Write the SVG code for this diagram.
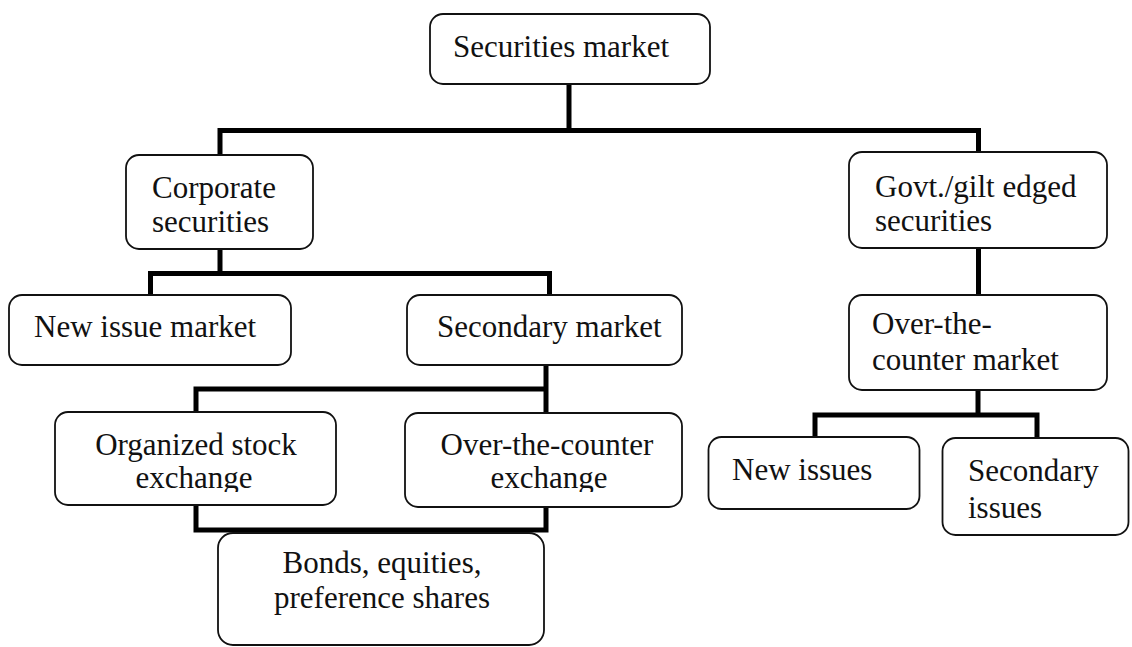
<svg xmlns="http://www.w3.org/2000/svg" width="1132" height="647" viewBox="0 0 1132 647">
<style>
.box{fill:#fff;stroke:#111;stroke-width:1.8}
.t{font-family:"Liberation Serif","Times New Roman",serif;font-size:31px;fill:#111}
.m{text-anchor:middle}
.c{fill:none;stroke:#000;stroke-width:5;stroke-linejoin:miter;stroke-linecap:butt}
</style>
<defs>
<clipPath id="clipOrg"><rect x="55" y="412" width="281" height="80"/></clipPath>
<clipPath id="clipOtcEx"><rect x="405" y="413" width="277" height="79"/></clipPath>
</defs>
<rect width="1132" height="647" fill="#fff"/>
<g id="connectors">
<path class="c" d="M569,84 V130.5"/>
<path class="c" d="M220,155 V130.5 H978.5 V152"/>
<path class="c" d="M220,249 V273.5"/>
<path class="c" d="M150.5,295 V273.5 H549.5 V295"/>
<path class="c" d="M546,365 V413"/>
<path class="c" d="M196,412 V389 H546"/>
<path class="c" d="M196,505 V530 H546 V507"/>
<path class="c" d="M978.5,248 V295"/>
<path class="c" d="M978,390 V415"/>
<path class="c" d="M815,437 V415 H1037 V438"/>
</g>
<g id="securities-market">
<rect class="box" x="430" y="14" width="280" height="70" rx="13"/>
<text class="t" x="453" y="57">Securities market</text>
</g>
<g id="corporate-securities">
<rect class="box" x="126" y="155" width="187" height="94" rx="13"/>
<text class="t" x="152" y="198">Corporate</text>
<text class="t" x="152" y="232">securities</text>
</g>
<g id="govt-securities">
<rect class="box" x="849" y="152" width="258" height="96" rx="13"/>
<text class="t" x="875" y="197">Govt./gilt edged</text>
<text class="t" x="875" y="231">securities</text>
</g>
<g id="new-issue-market">
<rect class="box" x="9" y="295" width="282" height="70" rx="13"/>
<text class="t" x="34" y="337">New issue market</text>
</g>
<g id="secondary-market">
<rect class="box" x="407" y="295" width="275" height="70" rx="13"/>
<text class="t" x="437" y="337">Secondary market</text>
</g>
<g id="otc-market">
<rect class="box" x="849" y="295" width="258" height="95" rx="13"/>
<text class="t" x="872" y="334">Over-the-</text>
<text class="t" x="872" y="370">counter market</text>
</g>
<g id="organized-stock-exchange">
<rect class="box" x="55" y="412" width="281" height="93" rx="13"/>
<text class="t m" x="196" y="455">Organized stock</text>
<text class="t m" x="194" y="488" clip-path="url(#clipOrg)">exchange</text>
</g>
<g id="otc-exchange">
<rect class="box" x="405" y="413" width="277" height="94" rx="13"/>
<text class="t m" x="547" y="455">Over-the-counter</text>
<text class="t m" x="549" y="488" clip-path="url(#clipOtcEx)">exchange</text>
</g>
<g id="bonds-equities">
<rect class="box" x="218" y="533" width="326" height="112" rx="15"/>
<text class="t m" x="382" y="573">Bonds, equities,</text>
<text class="t m" x="382" y="608">preference shares</text>
</g>
<g id="new-issues">
<rect class="box" x="708.5" y="437" width="211" height="72" rx="13"/>
<text class="t" x="732" y="480">New issues</text>
</g>
<g id="secondary-issues">
<rect class="box" x="942.5" y="438" width="186" height="97" rx="13"/>
<text class="t" x="968" y="481">Secondary</text>
<text class="t" x="968" y="518">issues</text>
</g>
</svg>
